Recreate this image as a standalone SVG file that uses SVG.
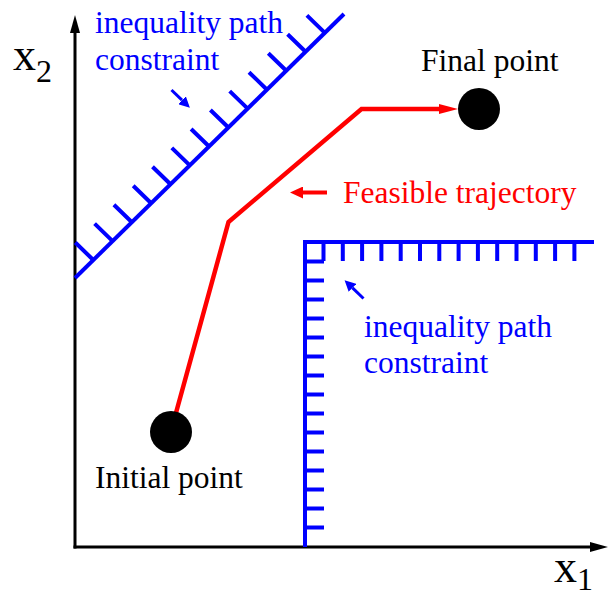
<svg xmlns="http://www.w3.org/2000/svg" width="608" height="595" viewBox="0 0 608 595">
<style>
text{font-family:'Liberation Serif','Times New Roman',Times,serif}
.t{font-size:31.5px}
.ax{font-size:46px}
.sub{font-size:32px}
.blue{fill:#0000ff}
.red{fill:#ff0000}
.blk{fill:#000}
.bl{stroke:#0000ff;stroke-width:4;fill:none}
</style>
<defs>
<marker id="ah-black" markerUnits="userSpaceOnUse" viewBox="0 0 18 10" refX="0" refY="5" markerWidth="18" markerHeight="10" orient="auto"><path d="M0,0 L18,5 L0,10 z" fill="#000"/></marker>
<marker id="ah-red" markerUnits="userSpaceOnUse" viewBox="0 0 19 10" refX="0" refY="5" markerWidth="19" markerHeight="10" orient="auto"><path d="M0,0 L19,5 L0,10 z" fill="#ff0000"/></marker>
<marker id="ah-red2" markerUnits="userSpaceOnUse" viewBox="0 0 13 12" refX="0" refY="6" markerWidth="13" markerHeight="12" orient="auto"><path d="M0,0 L13,6 L0,12 z" fill="#ff0000"/></marker>
<marker id="ah-blue" markerUnits="userSpaceOnUse" viewBox="0 0 11 11" refX="0" refY="5.5" markerWidth="11" markerHeight="11" orient="auto"><path d="M0,0 L11,5.5 L0,11 z" fill="#0000ff"/></marker>
</defs>

<g id="axes">
<line x1="75" y1="548.5" x2="75" y2="33" stroke="#000" stroke-width="3" marker-end="url(#ah-black)"/>
<line x1="73.5" y1="547" x2="590" y2="547" stroke="#000" stroke-width="3" marker-end="url(#ah-black)"/>
<text x="13" y="70" class="blk ax" font-family="Liberation Serif, serif">x<tspan dy="12" class="sub">2</tspan></text>
<text x="554" y="582" class="blk ax" font-family="Liberation Serif, serif">x<tspan dy="8" class="sub">1</tspan></text>
</g>

<g id="constraint-diagonal">
<path class="bl" d="M75 278 L344 14"/>
<path class="bl" d="M93.3 260 l-18 -17.5 M112.6 241.1 l-18 -17.5 M131.9 222.2 l-18 -17.5 M151.2 203.3 l-18 -17.5 M170.5 184.3 l-18 -17.5 M189.8 165.4 l-18 -17.5 M209.1 146.5 l-18 -17.5 M228.4 127.5 l-18 -17.5 M247.7 108.6 l-18 -17.5 M267 89.7 l-18 -17.5 M286.3 70.7 l-18 -17.5 M305.6 51.8 l-18 -17.5 M324.9 32.9 l-18 -17.5"/>
</g>

<g id="constraint-corner">
<path class="bl" d="M305 547 V242 H594"/>
<path class="bl" d="M323.5 242 v19 M342.8 242 v19 M362.1 242 v19 M381.4 242 v19 M400.7 242 v19 M420 242 v19 M439.3 242 v19 M458.6 242 v19 M477.9 242 v19 M497.2 242 v19 M516.5 242 v19 M535.8 242 v19 M555.1 242 v19 M574.4 242 v19"/>
<path class="bl" d="M305 261.5 h19 M305 280.5 h19 M305 299.5 h19 M305 318.5 h19 M305 337.5 h19 M305 356.5 h19 M305 375.5 h19 M305 394.5 h19 M305 413.5 h19 M305 432.5 h19 M305 451.5 h19 M305 470.5 h19 M305 489.5 h19 M305 508.5 h19 M305 527.5 h19"/>
</g>

<g id="connectors">
<polyline points="171,431 228.5,222 361.5,109 439,109" fill="none" stroke="#ff0000" stroke-width="4.5" marker-end="url(#ah-red)"/>
<line x1="327" y1="192.5" x2="303" y2="192.5" stroke="#ff0000" stroke-width="4" marker-end="url(#ah-red2)"/>
<line x1="171.5" y1="90" x2="182" y2="100.2" stroke="#0000ff" stroke-width="3" marker-end="url(#ah-blue)"/>
<line x1="363.5" y1="298.5" x2="352.5" y2="287.9" stroke="#0000ff" stroke-width="3" marker-end="url(#ah-blue)"/>
</g>

<g id="initial-point">
<circle cx="171" cy="432" r="21" fill="#000"/>
<text x="95" y="488" class="blk t" font-family="Liberation Serif, serif">Initial point</text>
</g>

<g id="final-point">
<circle cx="479" cy="109" r="21" fill="#000"/>
<text x="421" y="71" class="blk t" font-family="Liberation Serif, serif">Final point</text>
</g>

<g id="label-trajectory">
<text x="343" y="203" class="red t" font-family="Liberation Serif, serif">Feasible trajectory</text>
</g>

<g id="label-constraint-1">
<text x="95" y="33" class="blue t" font-family="Liberation Serif, serif">inequality path</text>
<text x="95" y="70" class="blue t" font-family="Liberation Serif, serif">constraint</text>
</g>

<g id="label-constraint-2">
<text x="364" y="337" class="blue t" font-family="Liberation Serif, serif">inequality path</text>
<text x="364" y="373" class="blue t" font-family="Liberation Serif, serif">constraint</text>
</g>
</svg>
